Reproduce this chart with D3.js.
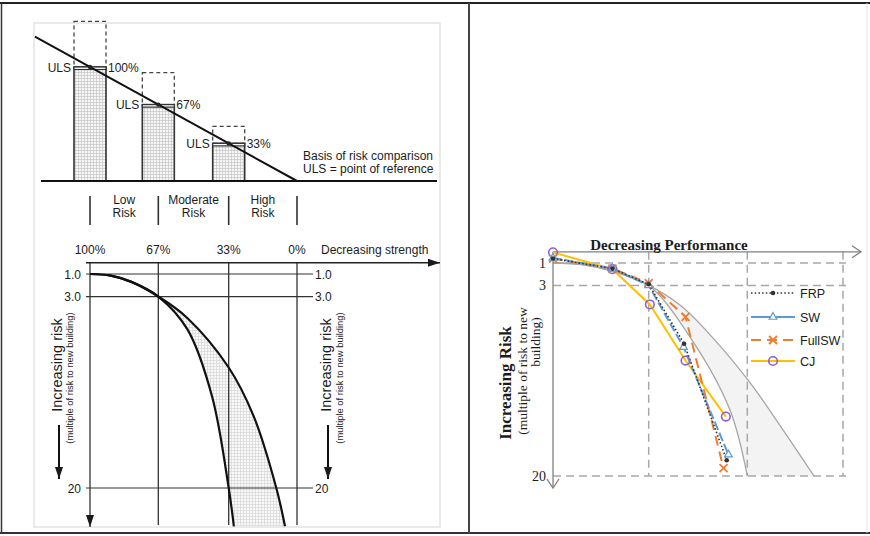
<!DOCTYPE html>
<html>
<head>
<meta charset="utf-8">
<script src="https://cdn.jsdelivr.net/npm/d3@7"></script>
<style>
  body { margin: 0; background: #fff; }
  svg { display: block; }
  text { font-family: "Liberation Sans", Arial, sans-serif; fill: #1c1c1c; }
  .serif { font-family: "Liberation Serif", "Times New Roman", serif; }
</style>
</head>
<body>
<svg id="chart" width="870" height="536"></svg>
<script>
// ---- data ----
const strengthLevels = [100, 67, 33, 0];
const strengthLabels = ["100%", "67%", "33%", "0%"];
const riskLevels = [1, 3, 20];
const riskLabelsLeft = ["1.0", "3.0", "20"];
const riskLabelsRight = ["1", "3", "20"];
const bandNames = [["Low", "Risk"], ["Moderate", "Risk"], ["High", "Risk"]];
const ulsStrength = [100, 67, 33];
const ulsLabels = ["100%", "67%", "33%"];
const dashedStrength = [140, 95, 48];
// risk curves [strength %, risk multiple]
const steepCurve = [[100, 1], [90, 1.15], [80, 1.7], [67, 3], [53, 5.9], [41, 11.9], [33, 20], [30.5, 23.4]];
const flatCurve = [[100, 1], [90, 1.15], [80, 1.7], [67, 3], [53, 4.9], [33, 9.3], [21, 13.6], [10, 20], [5.8, 23.4]];
// envelope as redrawn in the right figure
const envSteep = [[100, 1], [90, 1.15], [80, 1.7], [67, 3], [52, 7.9], [39, 14.1], [33, 20]];
const envFlat = [[100, 1], [90, 1.15], [80, 1.7], [67, 3], [56, 4.8], [44.8, 7.7], [32, 11.7], [21.7, 15.5], [10, 20]];
// retrofit series (right panel)
const seriesNames = ["FRP", "SW", "FullSW", "CJ"];
const frpValues = [[100, 0.6], [79.5, 1.5], [67, 2.9], [54.8, 8.2], [40.1, 18.6]];
const swValues = [[100, 0.55], [79.5, 1.5], [67, 3.0], [55, 8.5], [39.5, 18.1]];
const fullswValues = [[100, 0.6], [79.5, 1.5], [67, 2.8], [54.3, 5.8], [41.2, 19.3]];
const cjValues = [[100, 0.05], [79.5, 1.55], [66.6, 4.7], [54.3, 9.7], [40.4, 14.7]];

const svg = d3.select("#chart");
const defs = svg.append("defs");

// fine grid hatch used in the left figure
const pat = defs.append("pattern").attr("id", "grid")
    .attr("width", 3).attr("height", 3).attr("patternUnits", "userSpaceOnUse");
pat.append("rect").attr("width", 3).attr("height", 3).attr("fill", "#f7f7f7");
pat.append("path").attr("d", "M0,0.5H3M0.5,0V3").attr("stroke", "#c4c4c4").attr("stroke-width", 0.7);

defs.append("marker").attr("id", "arrowFill")
    .attr("markerUnits", "userSpaceOnUse").attr("markerWidth", 12).attr("markerHeight", 8)
    .attr("refX", 12).attr("refY", 4).attr("orient", "auto")
    .append("path").attr("d", "M0,0L12,4L0,8Z").attr("fill", "#1a1a1a");

defs.append("marker").attr("id", "arrowOpen")
    .attr("markerUnits", "userSpaceOnUse").attr("markerWidth", 12).attr("markerHeight", 14)
    .attr("refX", 10).attr("refY", 7).attr("orient", "auto")
    .append("path").attr("d", "M1,1L10,7L1,13").attr("fill", "none").attr("stroke", "#808080").attr("stroke-width", 1.3);

// ---- frames ----
svg.append("line").attr("x1", 0).attr("x2", 870).attr("y1", 3).attr("y2", 3).attr("stroke", "#222").attr("stroke-width", 2);
svg.append("line").attr("x1", 0).attr("x2", 870).attr("y1", 533).attr("y2", 533).attr("stroke", "#333").attr("stroke-width", 2);
svg.append("line").attr("x1", 1.5).attr("x2", 1.5).attr("y1", 3).attr("y2", 533).attr("stroke", "#333").attr("stroke-width", 1.5);
svg.append("line").attr("x1", 469).attr("x2", 469).attr("y1", 3).attr("y2", 533).attr("stroke", "#444").attr("stroke-width", 2);
svg.append("line").attr("x1", 867).attr("x2", 867).attr("y1", 3).attr("y2", 533).attr("stroke", "#e4e4e4").attr("stroke-width", 1);
svg.append("rect").attr("x", 34).attr("y", 23).attr("width", 406).attr("height", 504)
    .attr("fill", "none").attr("stroke", "#ddd").attr("stroke-width", 1.2);

// ---- left panel: scales ----
const xL = d3.scaleLinear().domain([100, 0]).range([90, 297]);
const yL = d3.scaleLinear().domain([1, 20]).range([274, 488]);
const yT = d3.scaleLinear().domain([0, 100]).range([181, 67]);
const barW = 32;

const topG = svg.append("g");
// dashed boxes
topG.selectAll(".dbox").data(ulsStrength).join("rect")
    .attr("x", d => xL(d) - barW / 2).attr("width", barW)
    .attr("y", (d, i) => yT(dashedStrength[i]))
    .attr("height", (d, i) => yT(d) - yT(dashedStrength[i]))
    .attr("fill", "none").attr("stroke", "#444").attr("stroke-width", 1.3).attr("stroke-dasharray", "4,3");
// bars
topG.selectAll(".bar").data(ulsStrength).join("rect")
    .attr("x", d => xL(d) - barW / 2).attr("width", barW)
    .attr("y", d => yT(d)).attr("height", d => yT(0) - yT(d))
    .attr("fill", "url(#grid)").attr("stroke", "#333").attr("stroke-width", 1.6);
topG.selectAll(".cap").data(ulsStrength).join("rect")
    .attr("x", d => xL(d) - barW / 2).attr("width", barW)
    .attr("y", d => yT(d)).attr("height", 2.5)
    .attr("fill", "#fff").attr("stroke", "#333").attr("stroke-width", 1.2);
// diagonal strength line
topG.append("line")
    .attr("x1", xL(126.6)).attr("y1", yT(126.6)).attr("x2", xL(0)).attr("y2", yT(0))
    .attr("stroke", "#111").attr("stroke-width", 2);
topG.selectAll(".dot").data(ulsStrength).join("circle")
    .attr("cx", d => xL(d)).attr("cy", d => yT(d)).attr("r", 2.2).attr("fill", "#222");
topG.selectAll(".uls").data(ulsStrength).join("text")
    .attr("x", d => xL(d) - barW / 2 - 3).attr("y", d => yT(d) + 4.5)
    .attr("text-anchor", "end").attr("font-size", 12).text("ULS");
topG.selectAll(".pct").data(ulsStrength).join("text")
    .attr("x", d => xL(d) + barW / 2 + 2).attr("y", d => yT(d) + 4.5)
    .attr("font-size", 12).text((d, i) => ulsLabels[i]);
// baseline
topG.append("line").attr("x1", 41).attr("x2", 437).attr("y1", yT(0)).attr("y2", yT(0))
    .attr("stroke", "#111").attr("stroke-width", 2);
topG.append("text").attr("x", 303).attr("y", 160).attr("font-size", 12).text("Basis of risk comparison");
topG.append("text").attr("x", 303).attr("y", 173).attr("font-size", 12).text("ULS = point of reference");
// risk band separators
topG.selectAll(".sep").data(strengthLevels).join("line")
    .attr("x1", d => xL(d)).attr("x2", d => xL(d)).attr("y1", 196).attr("y2", 225)
    .attr("stroke", "#333").attr("stroke-width", 1.6);
bandNames.forEach((b, i) => {
    const cx = (xL(strengthLevels[i]) + xL(strengthLevels[i + 1])) / 2;
    b.forEach((t, j) => {
        topG.append("text").attr("x", cx).attr("y", 204 + j * 13)
            .attr("text-anchor", "middle").attr("font-size", 12).text(t);
    });
});

// ---- left panel: risk curves ----
const botG = svg.append("g");
const lineL = d3.line().x(d => xL(d[0])).y(d => yL(d[1])).curve(d3.curveCatmullRom);

const flatTail = flatCurve.filter(d => d[0] <= 67);
const steepTail = steepCurve.filter(d => d[0] <= 67).reverse();
botG.append("path")
    .attr("d", lineL(flatTail) + "L" + lineL(steepTail).slice(1) + "Z")
    .attr("fill", "url(#grid)").attr("opacity", 0.7);

botG.selectAll(".hline").data(riskLevels).join("line")
    .attr("x1", 86).attr("x2", 313).attr("y1", d => yL(d)).attr("y2", d => yL(d))
    .attr("stroke", "#333").attr("stroke-width", 1.2);
botG.selectAll(".vline").data(strengthLevels.slice(1)).join("line")
    .attr("x1", d => xL(d)).attr("x2", d => xL(d)).attr("y1", yL(0)).attr("y2", 525)
    .attr("stroke", "#333").attr("stroke-width", 1.3);
botG.append("line").attr("x1", xL(100)).attr("x2", xL(100)).attr("y1", yL(0)).attr("y2", 527)
    .attr("stroke", "#333").attr("stroke-width", 1.3).attr("marker-end", "url(#arrowFill)");
botG.append("line").attr("x1", 86).attr("x2", 440).attr("y1", yL(0)).attr("y2", yL(0))
    .attr("stroke", "#222").attr("stroke-width", 1.3).attr("marker-end", "url(#arrowFill)");

botG.selectAll(".ltick").data(riskLevels).join("text")
    .attr("x", 81).attr("y", d => yL(d) + 4.5).attr("text-anchor", "end").attr("font-size", 12)
    .text((d, i) => riskLabelsLeft[i]);
botG.selectAll(".rtick").data(riskLevels).join("text")
    .attr("x", 315).attr("y", d => yL(d) + 4.5).attr("font-size", 12)
    .text((d, i) => riskLabelsLeft[i]);
botG.selectAll(".stick").data(strengthLevels).join("text")
    .attr("x", d => xL(d)).attr("y", 254).attr("text-anchor", "middle").attr("font-size", 12)
    .text((d, i) => strengthLabels[i]);
botG.append("text").attr("x", 321).attr("y", 254).attr("font-size", 12).text("Decreasing strength");

botG.append("path").attr("d", lineL(steepCurve)).attr("fill", "none").attr("stroke", "#111").attr("stroke-width", 2.2);
botG.append("path").attr("d", lineL(flatCurve)).attr("fill", "none").attr("stroke", "#111").attr("stroke-width", 2.2);

[[62, 73, 59], [331, 343, 328]].forEach(([xm, xs, xa]) => {
    botG.append("text").attr("transform", `translate(${xm},365) rotate(-90)`)
        .attr("text-anchor", "middle").attr("font-size", 14.5).text("Increasing risk");
    botG.append("text").attr("transform", `translate(${xs},378) rotate(-90)`)
        .attr("text-anchor", "middle").attr("font-size", 9.4).text("(multiple of risk to new building)");
    botG.append("line").attr("x1", xa).attr("x2", xa).attr("y1", 425).attr("y2", 479)
        .attr("stroke", "#111").attr("stroke-width", 2).attr("marker-end", "url(#arrowFill)");
});

// ---- right panel ----
const xR = d3.scaleLinear().domain([100, 0]).range([553, 843]);
const yR = d3.scaleLinear().domain([1, 20]).range([263, 476]);
const rightG = svg.append("g");
const lineR = d3.line().x(d => xR(d[0])).y(d => yR(d[1])).curve(d3.curveCatmullRom);

rightG.append("path")
    .attr("d", lineR(envFlat.filter(d => d[0] <= 67)) + "L" + lineR(envSteep.filter(d => d[0] <= 67).reverse()).slice(1) + "Z")
    .attr("fill", "#f3f3f3");

const dash = "8,5";
rightG.selectAll(".rh").data(riskLevels).join("line")
    .attr("x1", xR(100)).attr("x2", 846).attr("y1", d => yR(d)).attr("y2", d => yR(d))
    .attr("stroke", "#a8a8a8").attr("stroke-width", 1.5).attr("stroke-dasharray", dash);
rightG.selectAll(".rv").data(strengthLevels.slice(1)).join("line")
    .attr("x1", d => xR(d)).attr("x2", d => xR(d)).attr("y1", yR(0)).attr("y2", yR(20))
    .attr("stroke", "#a8a8a8").attr("stroke-width", 1.5).attr("stroke-dasharray", dash);

rightG.append("path").attr("d", lineR(envSteep)).attr("fill", "none").attr("stroke", "#a6a6a6").attr("stroke-width", 1.3);
rightG.append("path").attr("d", lineR(envFlat)).attr("fill", "none").attr("stroke", "#a6a6a6").attr("stroke-width", 1.3);

rightG.append("line").attr("x1", xR(100)).attr("x2", 861).attr("y1", yR(0)).attr("y2", yR(0))
    .attr("stroke", "#808080").attr("stroke-width", 1.3).attr("marker-end", "url(#arrowOpen)");
rightG.append("line").attr("x1", xR(100)).attr("x2", xR(100)).attr("y1", yR(0)).attr("y2", 488)
    .attr("stroke", "#808080").attr("stroke-width", 1.3).attr("marker-end", "url(#arrowOpen)");

rightG.selectAll(".rt").data(riskLevels).join("text").attr("class", "serif")
    .attr("x", 546).attr("y", d => yR(d) + 5).attr("text-anchor", "end").attr("font-size", 14)
    .text((d, i) => riskLabelsRight[i]);
rightG.append("text").attr("class", "serif").attr("x", 669).attr("y", 250)
    .attr("text-anchor", "middle").attr("font-size", 15).attr("font-weight", "bold").text("Decreasing Performance");
rightG.append("text").attr("class", "serif").attr("transform", "translate(511,383) rotate(-90)")
    .attr("text-anchor", "middle").attr("font-size", 17).attr("font-weight", "bold").text("Increasing  Risk");
rightG.append("text").attr("class", "serif").attr("transform", "translate(527,371) rotate(-90)")
    .attr("text-anchor", "middle").attr("font-size", 13.5).text("(multiple of risk to new");
rightG.append("text").attr("class", "serif").attr("transform", "translate(540,342) rotate(-90)")
    .attr("text-anchor", "middle").attr("font-size", 13.5).text("building)");

// series
const seriesValues = [frpValues, swValues, fullswValues, cjValues];
const seriesStyle = [
    { color: "#333", width: 1.6, dash: "1.5,2.2", marker: "dot" },
    { color: "#5b9bd5", width: 2, dash: "9,3", marker: "tri" },
    { color: "#ed7d31", width: 2, dash: "10,6", marker: "x" },
    { color: "#ffc000", width: 2, dash: null, marker: "circle" }
];
const lineS = d3.line().x(d => xR(d[0])).y(d => yR(d[1]));

function drawMarker(g, kind, x, y, color) {
    if (kind === "dot") {
        g.append("circle").attr("cx", x).attr("cy", y).attr("r", 2.3).attr("fill", "#333");
    } else if (kind === "tri") {
        g.append("path").attr("d", d3.symbol(d3.symbolTriangle, 26)())
            .attr("transform", `translate(${x},${y})`).attr("fill", "#fff").attr("stroke", color).attr("stroke-width", 1.2);
    } else if (kind === "x") {
        g.append("path").attr("d", "M-4,-4L4,4M-4,4L4,-4")
            .attr("transform", `translate(${x},${y})`).attr("stroke", color).attr("stroke-width", 1.8);
    } else {
        g.append("circle").attr("cx", x).attr("cy", y).attr("r", 4.3)
            .attr("fill", "none").attr("stroke", "#8e5ed0").attr("stroke-width", 1.6);
    }
}

const drawOrder = [3, 2, 1, 0];
drawOrder.forEach(i => {
    const st = seriesStyle[i];
    rightG.append("path").attr("d", lineS(seriesValues[i]))
        .attr("fill", "none").attr("stroke", st.color).attr("stroke-width", st.width)
        .attr("stroke-dasharray", st.dash);
});
drawOrder.forEach(i => {
    seriesValues[i].forEach(d => drawMarker(rightG, seriesStyle[i].marker, xR(d[0]), yR(d[1]), seriesStyle[i].color));
});

// legend
const legendY = [293, 317, 340, 361];
seriesNames.forEach((name, i) => {
    const st = seriesStyle[i];
    const y = legendY[i];
    rightG.append("line").attr("x1", 751).attr("x2", 795).attr("y1", y).attr("y2", y)
        .attr("stroke", st.color).attr("stroke-width", st.width).attr("stroke-dasharray", i === 1 ? null : st.dash);
    drawMarker(rightG, st.marker, 773, y, st.color);
    rightG.append("text").attr("x", 800).attr("y", y + 5).attr("font-size", 12.5).attr("fill", "#333").text(name);
});
</script>
</body>
</html>
